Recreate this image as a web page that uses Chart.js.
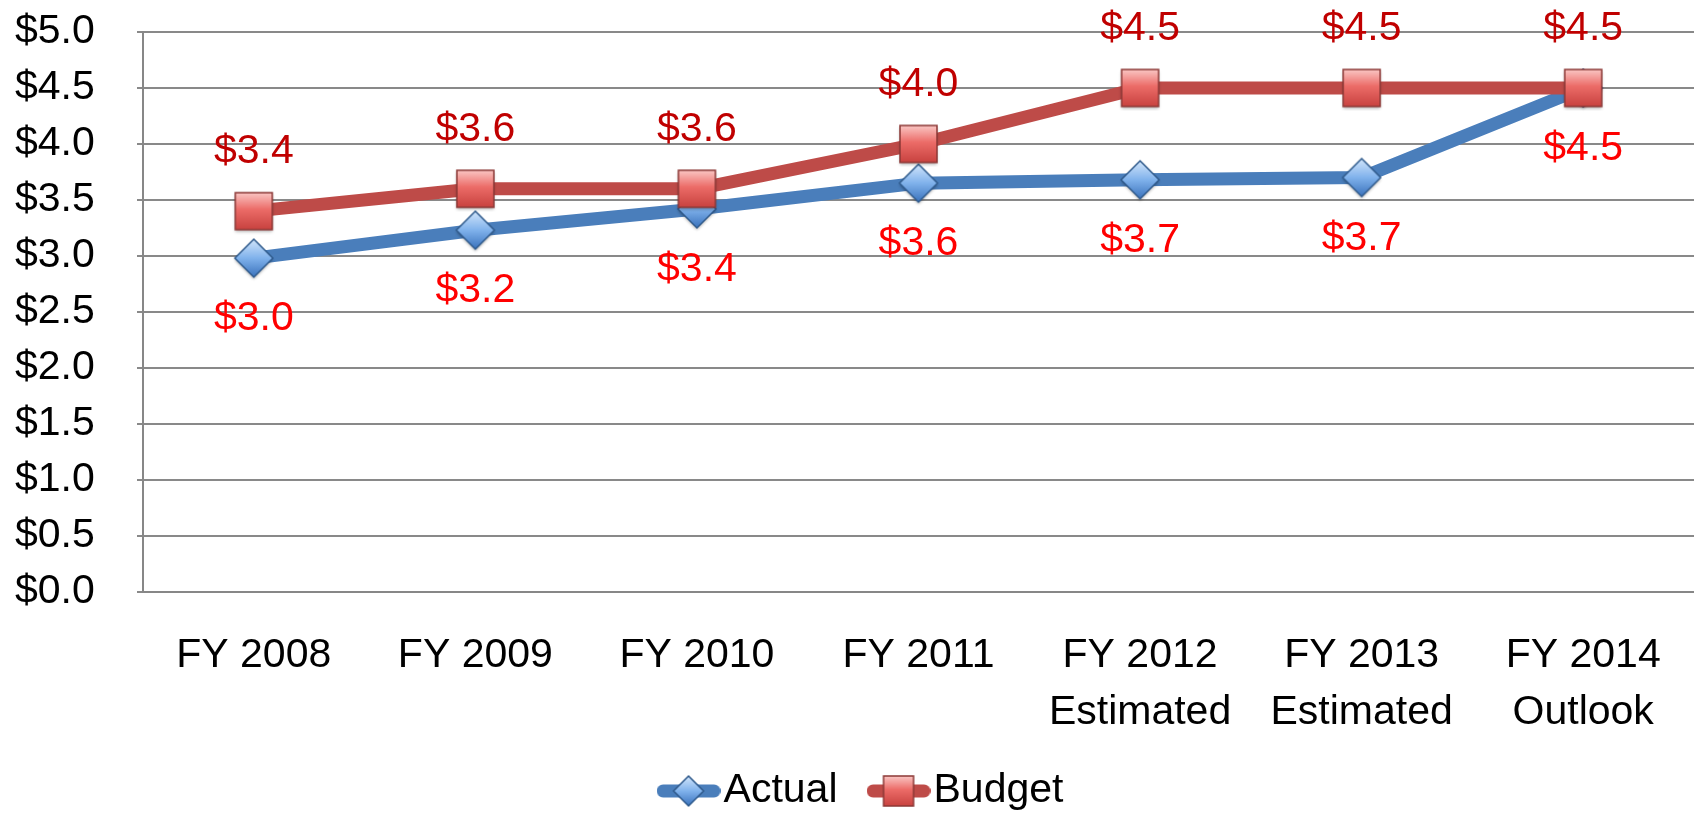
<!DOCTYPE html>
<html><head><meta charset="utf-8">
<script src="https://cdn.jsdelivr.net/npm/chart.js@4.4.1/dist/chart.umd.min.js"></script>
<style>html,body{margin:0;padding:0;background:#fff;} #wrap{width:1694px;height:814px;}</style>
</head><body><div id="wrap"><canvas id="c"></canvas></div>
<script>
const categories = [['FY 2008'], ['FY 2009'], ['FY 2010'], ['FY 2011'], ['FY 2012', 'Estimated'], ['FY 2013', 'Estimated'], ['FY 2014', 'Outlook']];
const actualValues = [2.98, 3.23, 3.42, 3.65, 3.68, 3.70, 4.50];
const budgetValues = [3.40, 3.60, 3.60, 4.00, 4.50, 4.50, 4.50];
const yTickLabels = ['$0.0', '$0.5', '$1.0', '$1.5', '$2.0', '$2.5', '$3.0', '$3.5', '$4.0', '$4.5', '$5.0'];

const FONT = 'Liberation Sans';
const FS = 41;

function makeDiamond(size, shadow) {
  const c = document.createElement('canvas'); const pad = 5;
  c.width = c.height = size + pad * 2;
  const ctx = c.getContext('2d'); const h = size / 2, cx = c.width / 2, cy = c.height / 2;
  ctx.beginPath(); ctx.moveTo(cx, cy - h); ctx.lineTo(cx + h, cy); ctx.lineTo(cx, cy + h); ctx.lineTo(cx - h, cy); ctx.closePath();
  const g = ctx.createLinearGradient(0, cy - h, 0, cy + h);
  g.addColorStop(0, '#D3E6FB'); g.addColorStop(0.5, '#80B2EC'); g.addColorStop(1, '#3A72BC');
  if (shadow) { ctx.shadowColor = 'rgba(0,0,0,0.3)'; ctx.shadowBlur = 3; ctx.shadowOffsetY = 2; }
  ctx.fillStyle = g; ctx.fill();
  ctx.shadowColor = 'transparent';
  ctx.lineWidth = 1.5; ctx.strokeStyle = '#2F5A8C'; ctx.stroke();
  return c;
}
function makeSquare(size, shadow) {
  const c = document.createElement('canvas'); const pad = 5;
  c.width = c.height = size + pad * 2;
  const ctx = c.getContext('2d'); const x0 = pad, y0 = pad;
  const g = ctx.createLinearGradient(0, y0, 0, y0 + size);
  g.addColorStop(0, '#FAC6C4'); g.addColorStop(0.45, '#EC6C68'); g.addColorStop(1, '#C8423F');
  if (shadow) { ctx.shadowColor = 'rgba(0,0,0,0.3)'; ctx.shadowBlur = 3; ctx.shadowOffsetY = 2; }
  ctx.fillStyle = g; ctx.fillRect(x0, y0, size, size);
  ctx.shadowColor = 'transparent';
  ctx.lineWidth = 1.5; ctx.strokeStyle = '#8C3836'; ctx.strokeRect(x0, y0, size, size);
  return c;
}
function makeLegendIcon(marker, color, w, lw) {
  const c = document.createElement('canvas'); c.width = w; c.height = Math.max(marker.height, lw + 4);
  const ctx = c.getContext('2d');
  ctx.strokeStyle = color; ctx.lineWidth = lw; ctx.lineCap = 'round';
  ctx.beginPath(); ctx.moveTo(lw / 2, c.height / 2); ctx.lineTo(w - lw / 2, c.height / 2); ctx.stroke();
  ctx.drawImage(marker, (w - marker.width) / 2, (c.height - marker.height) / 2);
  return c;
}

const diamond = makeDiamond(38, true);
const square = makeSquare(37, true);
const legendActual = makeLegendIcon(makeDiamond(30, false), '#4A7EBB', 64, 13);
const legendBudget = makeLegendIcon(makeSquare(30, false), '#BE4B48', 64, 13);

const valueLabels = {
  id: 'valueLabels',
  afterDatasetsDraw(chart) {
    const ctx = chart.ctx;
    chart.data.datasets.forEach((ds, i) => {
      const meta = chart.getDatasetMeta(i);
      meta.data.forEach((pt, j) => {
        ctx.save();
        ctx.font = FS + 'px "' + FONT + '"';
        ctx.fillStyle = ds.labelColor;
        ctx.textAlign = 'center';
        ctx.textBaseline = 'middle';
        ctx.fillText('$' + ds.data[j].toFixed(1), pt.x, pt.y + ds.labelOffset);
        ctx.restore();
      });
    });
  }
};

// legend drawn below the axis: line + marker icon, then the series name
const lineLegend = {
  id: 'lineLegend',
  afterDraw(chart) {
    const ctx = chart.ctx;
    ctx.save();
    ctx.font = FS + 'px "' + FONT + '"';
    ctx.textBaseline = 'middle';
    ctx.textAlign = 'left';
    ctx.fillStyle = '#000';
    const items = chart.data.datasets.map(ds => ({ icon: ds.legendIcon, text: ds.label, w: ctx.measureText(ds.label).width }));
    const iconGap = 3, itemGap = 29;
    let total = 0;
    items.forEach((it, i) => { total += it.icon.width + iconGap + it.w + (i < items.length - 1 ? itemGap : 0); });
    let x = chart.width / 2 + 13 - total / 2;
    const cy = chart.height - 23;
    items.forEach(it => {
      ctx.drawImage(it.icon, x, cy - it.icon.height / 2);
      x += it.icon.width + iconGap;
      ctx.fillText(it.text, x, cy);
      x += it.w + itemGap;
    });
    ctx.restore();
  }
};

new Chart(document.getElementById('c'), {
  type: 'line',
  data: {
    labels: categories,
    datasets: [
      { label: 'Actual', data: actualValues, borderColor: '#4A7EBB', backgroundColor: '#4A7EBB', borderWidth: 13,
        borderCapStyle: 'round', borderJoinStyle: 'round', pointStyle: diamond, pointRadius: 19, pointBorderWidth: 0, order: 1,
        labelColor: '#FF0000', labelOffset: 61, legendIcon: legendActual },
      { label: 'Budget', data: budgetValues, borderColor: '#BE4B48', backgroundColor: '#BE4B48', borderWidth: 13,
        borderCapStyle: 'round', borderJoinStyle: 'round', pointStyle: square, pointRadius: 19, pointBorderWidth: 0, order: 0,
        labelColor: '#C00000', labelOffset: -59, legendIcon: legendBudget }
    ]
  },
  options: {
    responsive: true, maintainAspectRatio: false, animation: false, devicePixelRatio: 1,
    layout: { autoPadding: false, padding: { top: 32, right: 0, left: 15, bottom: 45 } },
    plugins: {
      tooltip: { enabled: false },
      legend: { display: false }
    },
    scales: {
      x: {
        offset: true,
        grid: { display: false },
        border: { display: true, color: '#878787', width: 2 },
        ticks: { color: '#000', font: { family: FONT, size: FS, lineHeight: 1.38 }, padding: 28, maxRotation: 0, autoSkip: false }
      },
      y: {
        min: 0, max: 5,
        afterFit(axis) { axis.width = 128; },
        afterBuildTicks(axis) { axis.ticks = yTickLabels.map((t, i) => ({ value: i * 0.5 })); },
        grid: { color: '#898989', lineWidth: 2, tickLength: 6, drawTicks: true },
        border: { display: true, color: '#878787', width: 2 },
        ticks: { color: '#000', font: { family: FONT, size: FS }, padding: 0, crossAlign: 'far', autoSkip: false,
          callback: (v, i) => yTickLabels[i] }
      }
    }
  },
  plugins: [valueLabels, lineLegend]
});
</script></body></html>
